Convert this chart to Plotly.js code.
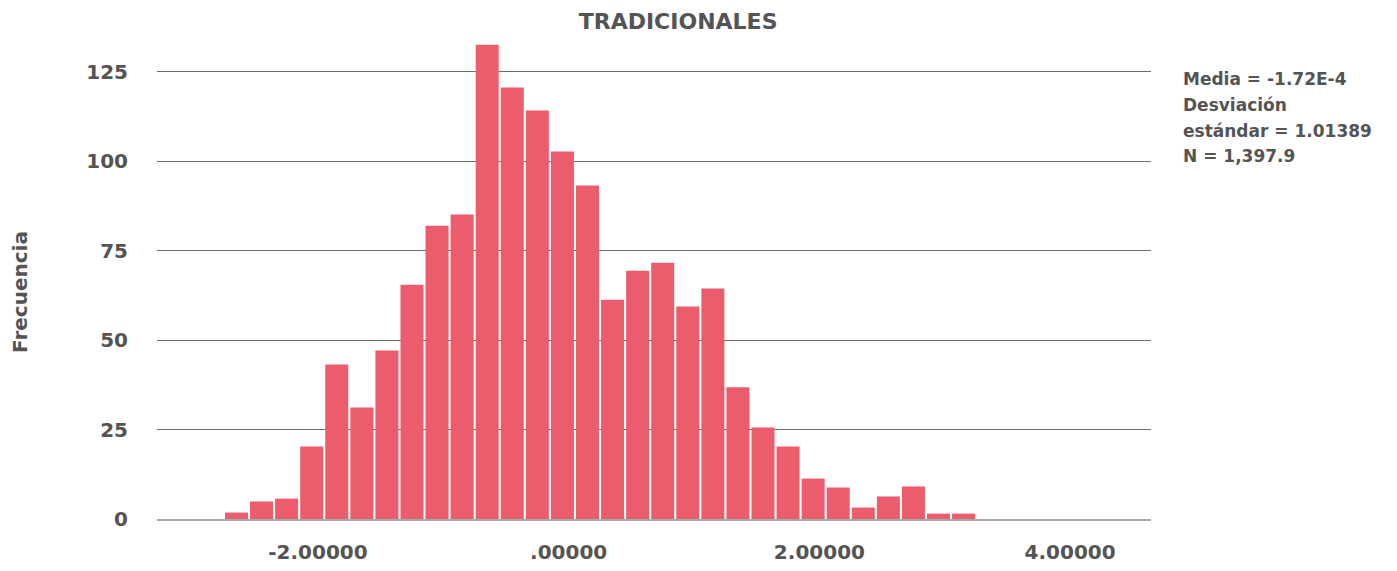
<!DOCTYPE html>
<html>
<head>
<meta charset="utf-8">
<script src="https://cdn.plot.ly/plotly-3.0.1.min.js"></script>
<style>
html,body{margin:0;padding:0;background:#fff;}
#chart{width:1397px;height:571px;}
</style>
</head>
<body>
<div id="chart"></div>
<script>
// Histogram bin midpoints (standardized scores)
const binMids = [-2.65, -2.45, -2.25, -2.05, -1.85, -1.65, -1.45, -1.25, -1.05, -0.85,
                 -0.65, -0.45, -0.25, -0.05, 0.15, 0.35, 0.55, 0.75, 0.95, 1.15,
                 1.35, 1.55, 1.75, 1.95, 2.15, 2.35, 2.55, 2.75, 2.95, 3.15];
// Frequencies (weighted)
const freqs = [1.8, 4.9, 5.7, 20.3, 43.2, 31.2, 47.1, 65.5, 82.0, 85.1,
               132.6, 120.6, 114.2, 102.7, 93.2, 61.3, 69.4, 71.6, 59.4, 64.4,
               36.8, 25.6, 20.3, 11.3, 8.8, 3.2, 6.3, 9.1, 1.5, 1.5];
const xTickVals = [-2, 0, 2, 4];
const xTickText = ["-2.00000", ".00000", "2.00000", "4.00000"];
const yTickVals = [0, 25, 50, 75, 100, 125];
const chartTitle = "TRADICIONALES";
const yTitle = "Frecuencia";
const statsLines = ["Media = -1.72E-4", "Desviación", "estándar = 1.01389", "N = 1,397.9"];

const FONT = "'DejaVu Sans', Verdana, sans-serif";
const GREY = "#545454";

const trace = {
  type: "bar",
  x: binMids,
  y: freqs,
  width: 0.1835,
  marker: {color: "#EB5C6D", line: {width: 0}},
  hoverinfo: "x+y"
};

const annotations = statsLines.map((t, i) => ({
  text: t,
  xref: "paper", yref: "paper",
  x: 1.0302, y: 0.918 - i * 0.0535,
  xanchor: "left", yanchor: "middle",
  showarrow: false,
  font: {family: FONT, size: 17, color: GREY, weight: 700}
}));
annotations.push({
  text: yTitle,
  xref: "paper", yref: "paper",
  x: -0.1378, y: 0.474,
  xanchor: "center", yanchor: "middle",
  textangle: -90,
  showarrow: false,
  font: {family: FONT, size: 20, color: GREY, weight: 700}
});

const layout = {
  width: 1397, height: 571,
  margin: {l: 157, r: 246, t: 40, b: 52},
  paper_bgcolor: "#ffffff",
  plot_bgcolor: "#ffffff",
  showlegend: false,
  title: {
    text: chartTitle,
    x: 0.4854, xanchor: "center",
    y: 0.962, yanchor: "middle",
    font: {family: FONT, size: 22, color: GREY, weight: 700}
  },
  xaxis: {
    range: [-3.284, 4.645],
    tickvals: xTickVals,
    ticktext: xTickText,
    showgrid: false,
    zeroline: false,
    showline: true,
    linecolor: "#a8a8a8",
    linewidth: 2,
    ticks: "",
    ticklabelstandoff: 14,
    tickfont: {family: FONT, size: 20, color: GREY, weight: 700}
  },
  yaxis: {
    range: [0, 133.9],
    tickvals: yTickVals,
    showgrid: true,
    gridcolor: "#6e6e6e",
    gridwidth: 1,
    zeroline: false,
    showline: false,
    ticks: "",
    ticklabelstandoff: 28,
    tickfont: {family: FONT, size: 20, color: GREY, weight: 700}
  },
  annotations: annotations
};

Plotly.newPlot("chart", [trace], layout, {displayModeBar: false, staticPlot: true});
</script>
</body>
</html>
